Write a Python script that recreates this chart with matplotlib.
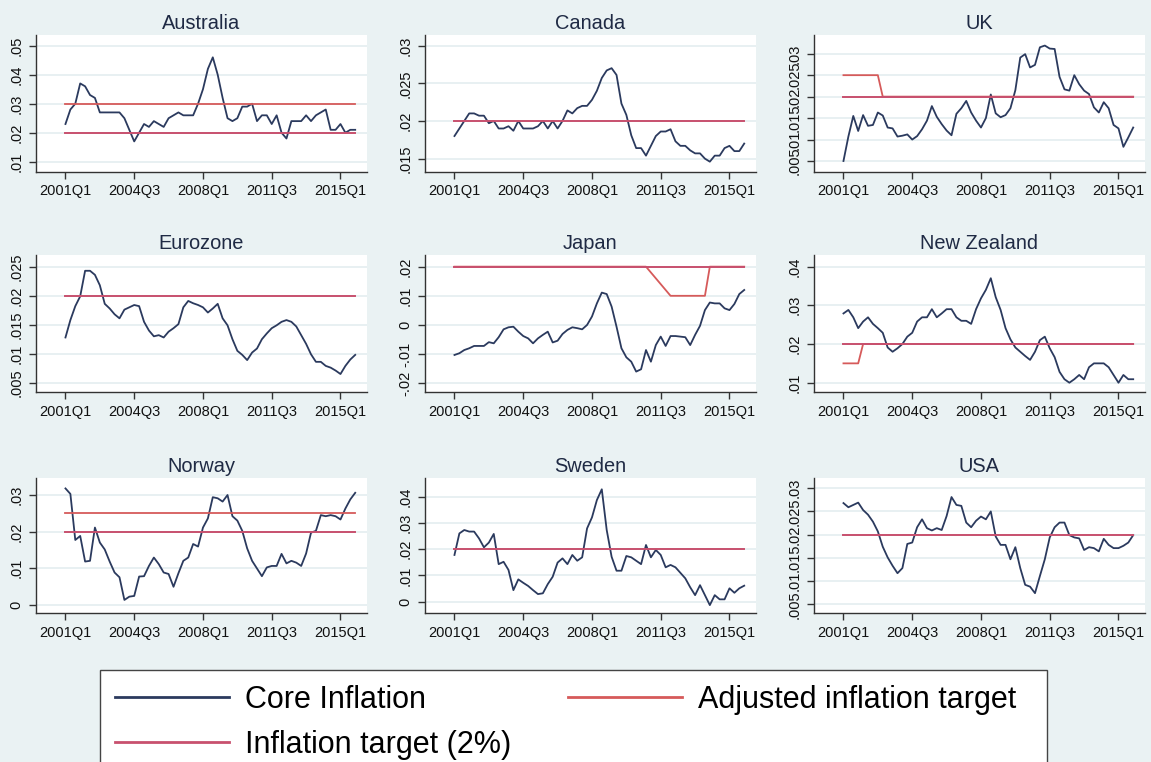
import matplotlib.pyplot as plt
import numpy as np
from matplotlib.patches import Rectangle

plt.rcParams['font.family'] = ['Liberation Sans', 'DejaVu Sans']

# quarterly data, 2001Q1 .. 2015Q4 (60 quarters)
tick_pos = [0, 14, 28, 42, 56]
tick_lab = ['2001Q1', '2004Q3', '2008Q1', '2011Q3', '2015Q1']

australia = [.023, .028, .030, .037, .036, .033, .032, .027, .027, .027,
             .027, .027, .025, .021, .017, .020, .023, .022, .024, .023,
             .022, .025, .026, .027, .026, .026, .026, .030, .035, .042,
             .046, .040, .032, .025, .024, .025, .029, .029, .030, .024,
             .026, .026, .023, .026, .020, .018, .024, .024, .024, .026,
             .024, .026, .027, .028, .021, .021, .023, .020, .021, .021]
canada = [.018, .019, .020, .021, .021, .0207, .0207, .0197, .020, .019,
          .019, .0193, .0187, .020, .019, .019, .019, .0193, .020, .019,
          .020, .019, .020, .0214, .021, .0217, .022, .022, .0228, .024,
          .0257, .0267, .027, .0261, .0223, .0208, .0181, .0164, .0164, .0154,
          .0167, .018, .0186, .0186, .0189, .0173, .0167, .0167, .0161, .0157,
          .0157, .015, .0146, .0154, .0154, .0164, .0167, .016, .016, .017]
uk = [.005, .0107, .0155, .012, .0157, .0132, .0134, .0163, .0156, .0128,
      .0126, .0107, .0109, .0112, .010, .0108, .0124, .0144, .0178, .0153,
      .0136, .0121, .011, .016, .0173, .019, .0163, .0144, .0128, .015,
      .0205, .0161, .0152, .0157, .0173, .0215, .0291, .0299, .0268, .0274,
      .0315, .0319, .0312, .0311, .0246, .0217, .0214, .025, .0229, .0214,
      .0206, .0175, .0163, .0187, .0173, .0134, .0126, .0083, .0105, .0128]
eurozone = [.0128, .0158, .0182, .0199, .0243, .0243, .0236, .0218, .0186, .0178,
            .0168, .0161, .0176, .018, .0184, .0182, .0155, .014, .013, .0132,
            .0128, .0138, .0144, .0151, .018, .0191, .0187, .0184, .018, .0171,
            .0178, .0186, .0161, .0149, .0125, .0105, .0098, .0089, .0102, .0109,
            .0125, .0135, .0144, .0149, .0155, .0158, .0155, .0147, .0132, .0117,
            .0099, .0086, .0086, .0079, .0076, .0071, .0065, .0079, .009, .0098]
japan = [-.0103, -.0097, -.0086, -.008, -.0072, -.0072, -.0072, -.0059, -.0063, -.0042,
         -.0015, -.0008, -.0006, -.0023, -.0038, -.0046, -.0063, -.0046, -.0034, -.0023,
         -.006, -.0054, -.0031, -.0017, -.0008, -.0011, -.0015, .0, .0029, .0074,
         .0111, .0106, .0063, -.0006, -.008, -.0111, -.0126, -.016, -.0152, -.0086,
         -.0126, -.0069, -.004, -.0072, -.0038, -.0038, -.004, -.0042, -.0069, -.0034,
         -.0003, .0051, .0077, .0074, .0074, .0057, .0051, .0072, .0106, .012]
new_zealand = [.0279, .0288, .0269, .0241, .0258, .0269, .0252, .0241, .0229, .0191,
               .018, .0189, .020, .0219, .0229, .0258, .0269, .0269, .029, .0269,
               .0279, .029, .029, .0269, .026, .026, .0252, .029, .0318, .034,
               .037, .0321, .0288, .0241, .0212, .0191, .018, .0169, .0159, .018,
               .021, .0219, .0189, .0166, .0128, .0109, .010, .0109, .012, .0109,
               .014, .015, .015, .015, .014, .012, .010, .012, .0109, .0109]
norway = [.0318, .0303, .0177, .0188, .0118, .012, .0211, .017, .0151, .0118,
          .0088, .0075, .0013, .0022, .0024, .0077, .0078, .0106, .0129, .0111,
          .0088, .0084, .0049, .0086, .012, .0129, .0166, .0159, .0211, .0236,
          .0294, .0291, .0282, .030, .0242, .023, .0202, .0154, .012, .0099,
          .0078, .0102, .0106, .0106, .0139, .0113, .012, .0115, .0106, .014,
          .0197, .0202, .0245, .0242, .0245, .0242, .0233, .0263, .0288, .0306]
sweden = [.0178, .026, .0273, .0267, .0267, .0241, .0207, .0225, .0258, .0143,
          .0152, .0121, .0044, .0085, .0072, .006, .0044, .0029, .0032, .0067,
          .0095, .0149, .0165, .0143, .0178, .0156, .0169, .0279, .0321, .0387,
          .0428, .0273, .0171, .0118, .0118, .0174, .0169, .0156, .0143, .0216,
          .0169, .0197, .0178, .0131, .014, .0131, .011, .0089, .0055, .0025,
          .0063, .0025, -.0013, .0025, .0009, .0009, .0051, .0034, .0051, .0061]
usa = [.0268, .0259, .0264, .0269, .0253, .0243, .0228, .0207, .0174, .0151,
       .0133, .0117, .0128, .018, .0183, .0216, .0233, .0214, .0209, .0214,
       .021, .024, .0281, .0264, .0262, .0226, .0216, .023, .0239, .0233,
       .025, .0196, .0178, .0178, .0147, .0173, .0128, .0092, .0088, .0074,
       .0111, .0147, .0194, .0216, .0226, .0226, .0199, .0194, .0192, .0167,
       .0173, .0171, .0164, .0191, .0178, .0171, .0171, .0176, .0183, .0199]

target = [.02] * 60
adj_australia = [.03] * 60
adj_uk = [.025] * 8 + [.02] * 52
adj_japan = [.02] * 40 + [.018, .016, .014, .012] + [.01] * 8 + [.02] * 8
adj_nz = [.015] * 4 + [.02] * 56
adj_norway = [.025] * 60

names = ['Australia', 'Canada', 'UK', 'Eurozone', 'Japan', 'New Zealand',
         'Norway', 'Sweden', 'USA']
cores = [australia, canada, uk, eurozone, japan, new_zealand, norway, sweden, usa]
adjusted = [adj_australia, None, adj_uk, None, adj_japan, adj_nz, adj_norway, None, None]
yticks = [[.01, .02, .03, .04, .05],
          [.015, .02, .025, .03],
          [.005, .01, .015, .02, .025, .03],
          [.005, .01, .015, .02, .025],
          [-.02, -.01, 0, .01, .02],
          [.01, .02, .03, .04],
          [0, .01, .02, .03],
          [0, .01, .02, .03, .04],
          [.005, .01, .015, .02, .025, .03]]
ylims = [(.00645, .0537), (.01323, .0314), (.00244, .03436),
         (.0034, .02702), (-.023, .024), (.0076, .043),
         (-.00227, .03465), (-.0043, .0471), (.00313, .0322)]

c_core = '#2b3a5e'
c_target = '#c8506e'
c_adj = '#d65a5a'
bg = '#eaf2f3'


def stata_fmt(v):
    if v == 0:
        return '0'
    return ('%g' % v).replace('0.', '.')


W, H = 1151, 762
lefts = [36, 425, 814]
tops = [35, 255, 478]
bottoms = [172, 392, 613]

fig = plt.figure(figsize=(11.51, 7.62), dpi=100, facecolor=bg)

t = np.arange(60)
handles = {}
for i, name in enumerate(names):
    r, c = divmod(i, 3)
    h = bottoms[r] - tops[r]
    ax = fig.add_axes([lefts[c] / W, 1 - bottoms[r] / H, 331 / W, h / H])
    ax.set_facecolor('white')
    l1, = ax.plot(t, cores[i], color=c_core, lw=1.3, zorder=3)
    if adjusted[i] is not None:
        l2, = ax.plot(t, adjusted[i], color=c_adj, lw=1.3, zorder=4)
        handles['adj'] = l2
    l3, = ax.plot(t, target, color=c_target, lw=1.4, zorder=5)
    handles['core'] = l1
    handles['target'] = l3

    ax.set_xlim(-6, 61.4)
    ax.set_ylim(*ylims[i])
    ax.set_xticks(tick_pos)
    ax.set_xticklabels(tick_lab)
    ax.set_yticks(yticks[i])
    ax.set_yticklabels([stata_fmt(v) for v in yticks[i]], rotation=90, va='center')
    ax.grid(axis='y', color='#e4edf0', lw=1.2)
    ax.set_axisbelow(True)
    for s in ['top', 'right']:
        ax.spines[s].set_visible(False)
    for s in ['left', 'bottom']:
        ax.spines[s].set_color('#333333')
        ax.spines[s].set_linewidth(1.0)
    ax.tick_params(length=5, width=1, color='#333333', labelsize=10.5,
                   labelcolor='#111111', pad=4)
    ax.text(0.5, 1 + 6 / h, name, transform=ax.transAxes, ha='center',
            va='baseline', fontsize=14.4, color='#1f2a44')

# legend box
fig.patches.append(Rectangle((100 / W, -0.05), 947 / W, (762 - 670) / H + 0.05,
                             transform=fig.transFigure, facecolor='white',
                             edgecolor='#444444', lw=1, zorder=0))
leg = fig.legend([handles['core'], handles['target'], handles['adj']],
                 ['Core Inflation', 'Inflation target (2%)', 'Adjusted inflation target'],
                 ncol=2, loc='upper left', bbox_to_anchor=(115 / W, 1 - 685 / H),
                 frameon=False, fontsize=22, borderpad=0, borderaxespad=0,
                 handlelength=3.73, handletextpad=0.52, columnspacing=1.86,
                 labelspacing=0.48)
for line in leg.get_lines():
    line.set_linewidth(2)

fig.savefig('out.png', dpi=100, facecolor=bg)
